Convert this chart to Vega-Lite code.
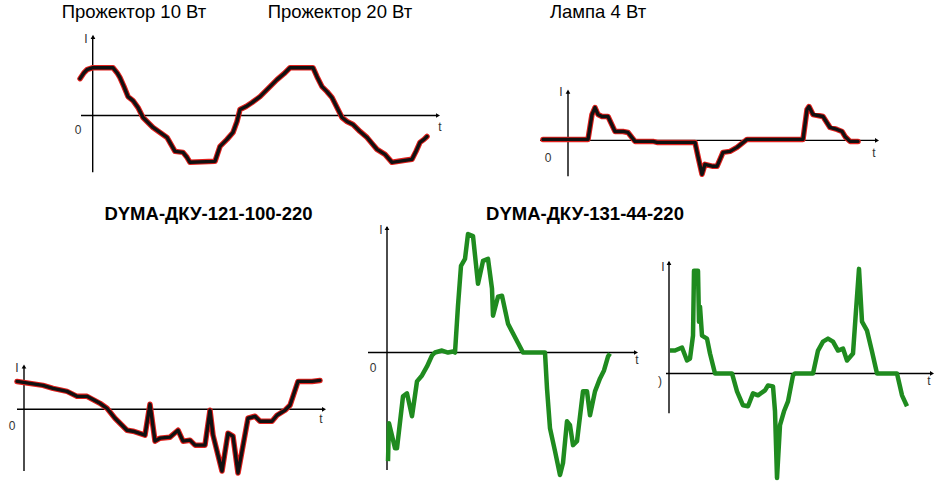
{
  "$schema": "https://vega.github.io/schema/vega-lite/v6.json",
  "width": 937,
  "height": 481,
  "autosize": {"type": "fit", "contains": "padding"},
  "padding": 0,
  "background": "white",
  "config": {"view": {"stroke": null}},
  "datasets": {
    "curves": [
      {"p":1,"o":1,"x":80,"y":79},{"p":1,"o":2,"x":84,"y":73},{"p":1,"o":3,"x":87,"y":70},{"p":1,"o":4,"x":93,"y":68},{"p":1,"o":5,"x":113,"y":68},{"p":1,"o":6,"x":117,"y":73},{"p":1,"o":7,"x":120,"y":78},{"p":1,"o":8,"x":124,"y":87},{"p":1,"o":9,"x":128,"y":97},{"p":1,"o":10,"x":133,"y":101},{"p":1,"o":11,"x":138,"y":108},{"p":1,"o":12,"x":143,"y":118},{"p":1,"o":13,"x":147,"y":122},{"p":1,"o":14,"x":153,"y":128},{"p":1,"o":15,"x":160,"y":133},{"p":1,"o":16,"x":167,"y":138},{"p":1,"o":17,"x":171,"y":145},{"p":1,"o":18,"x":175,"y":152},{"p":1,"o":19,"x":183,"y":153},{"p":1,"o":20,"x":187,"y":158},{"p":1,"o":21,"x":190,"y":163},{"p":1,"o":22,"x":215,"y":162},{"p":1,"o":23,"x":218,"y":153},{"p":1,"o":24,"x":220,"y":147},{"p":1,"o":25,"x":227,"y":140},{"p":1,"o":26,"x":233,"y":133},{"p":1,"o":27,"x":237,"y":122},{"p":1,"o":28,"x":240,"y":110},{"p":1,"o":29,"x":246,"y":107},{"p":1,"o":30,"x":252,"y":103},{"p":1,"o":31,"x":260,"y":97},{"p":1,"o":32,"x":267,"y":90},{"p":1,"o":33,"x":272,"y":85},{"p":1,"o":34,"x":277,"y":80},{"p":1,"o":35,"x":284,"y":74},{"p":1,"o":36,"x":290,"y":68},{"p":1,"o":37,"x":313,"y":68},{"p":1,"o":38,"x":317,"y":77},{"p":1,"o":39,"x":322,"y":87},{"p":1,"o":40,"x":327,"y":92},{"p":1,"o":41,"x":332,"y":98},{"p":1,"o":42,"x":337,"y":108},{"p":1,"o":43,"x":342,"y":118},{"p":1,"o":44,"x":347,"y":122},{"p":1,"o":45,"x":353,"y":125},{"p":1,"o":46,"x":360,"y":132},{"p":1,"o":47,"x":367,"y":138},{"p":1,"o":48,"x":372,"y":144},{"p":1,"o":49,"x":377,"y":150},{"p":1,"o":50,"x":385,"y":155},{"p":1,"o":51,"x":392,"y":163},{"p":1,"o":52,"x":405,"y":161},{"p":1,"o":53,"x":412,"y":160},{"p":1,"o":54,"x":416,"y":152},{"p":1,"o":55,"x":420,"y":143},{"p":1,"o":56,"x":424,"y":140},{"p":1,"o":57,"x":427,"y":137},

      {"p":2,"o":1,"x":543,"y":140},{"p":2,"o":2,"x":588,"y":140},{"p":2,"o":3,"x":592,"y":115},{"p":2,"o":4,"x":595,"y":108},{"p":2,"o":5,"x":598,"y":115},{"p":2,"o":6,"x":602,"y":117},{"p":2,"o":7,"x":608,"y":117},{"p":2,"o":8,"x":615,"y":132},{"p":2,"o":9,"x":623,"y":132},{"p":2,"o":10,"x":628,"y":133},{"p":2,"o":11,"x":635,"y":142},{"p":2,"o":12,"x":653,"y":142},{"p":2,"o":13,"x":657,"y":143},{"p":2,"o":14,"x":695,"y":143},{"p":2,"o":15,"x":698,"y":157},{"p":2,"o":16,"x":702,"y":175},{"p":2,"o":17,"x":705,"y":165},{"p":2,"o":18,"x":713,"y":167},{"p":2,"o":19,"x":717,"y":167},{"p":2,"o":20,"x":723,"y":153},{"p":2,"o":21,"x":730,"y":152},{"p":2,"o":22,"x":737,"y":148},{"p":2,"o":23,"x":747,"y":140},{"p":2,"o":24,"x":803,"y":140},{"p":2,"o":25,"x":807,"y":110},{"p":2,"o":26,"x":809,"y":107},{"p":2,"o":27,"x":813,"y":115},{"p":2,"o":28,"x":823,"y":117},{"p":2,"o":29,"x":830,"y":128},{"p":2,"o":30,"x":837,"y":130},{"p":2,"o":31,"x":842,"y":132},{"p":2,"o":32,"x":845,"y":137},{"p":2,"o":33,"x":850,"y":142},{"p":2,"o":34,"x":858,"y":142},

      {"p":3,"o":1,"x":17,"y":383},{"p":3,"o":2,"x":43,"y":387},{"p":3,"o":3,"x":53,"y":390},{"p":3,"o":4,"x":67,"y":393},{"p":3,"o":5,"x":77,"y":398},{"p":3,"o":6,"x":87,"y":398},{"p":3,"o":7,"x":100,"y":405},{"p":3,"o":8,"x":107,"y":410},{"p":3,"o":9,"x":115,"y":420},{"p":3,"o":10,"x":127,"y":432},{"p":3,"o":11,"x":133,"y":433},{"p":3,"o":12,"x":145,"y":437},{"p":3,"o":13,"x":150,"y":406},{"p":3,"o":14,"x":155,"y":443},{"p":3,"o":15,"x":160,"y":440},{"p":3,"o":16,"x":170,"y":439},{"p":3,"o":17,"x":178,"y":432},{"p":3,"o":18,"x":183,"y":443},{"p":3,"o":19,"x":190,"y":442},{"p":3,"o":20,"x":195,"y":447},{"p":3,"o":21,"x":205,"y":447},{"p":3,"o":22,"x":210,"y":412},{"p":3,"o":23,"x":213,"y":437},{"p":3,"o":24,"x":222,"y":473},{"p":3,"o":25,"x":228,"y":435},{"p":3,"o":26,"x":233,"y":438},{"p":3,"o":27,"x":238,"y":475},{"p":3,"o":28,"x":248,"y":420},{"p":3,"o":29,"x":255,"y":418},{"p":3,"o":30,"x":260,"y":423},{"p":3,"o":31,"x":272,"y":423},{"p":3,"o":32,"x":277,"y":417},{"p":3,"o":33,"x":285,"y":412},{"p":3,"o":34,"x":290,"y":407},{"p":3,"o":35,"x":298,"y":383},{"p":3,"o":36,"x":312,"y":383},{"p":3,"o":37,"x":320,"y":382},

      {"p":4,"o":1,"x":388,"y":463},{"p":4,"o":2,"x":389,"y":425},{"p":4,"o":3,"x":395,"y":450},{"p":4,"o":4,"x":397,"y":450},{"p":4,"o":5,"x":403,"y":398},{"p":4,"o":6,"x":407,"y":395},{"p":4,"o":7,"x":412,"y":418},{"p":4,"o":8,"x":415,"y":397},{"p":4,"o":9,"x":417,"y":383},{"p":4,"o":10,"x":422,"y":377},{"p":4,"o":11,"x":427,"y":368},{"p":4,"o":12,"x":432,"y":357},{"p":4,"o":13,"x":435,"y":354},{"p":4,"o":14,"x":442,"y":352},{"p":4,"o":15,"x":448,"y":354},{"p":4,"o":16,"x":453,"y":353},{"p":4,"o":17,"x":455,"y":354},{"p":4,"o":18,"x":458,"y":307},{"p":4,"o":19,"x":461,"y":267},{"p":4,"o":20,"x":465,"y":260},{"p":4,"o":21,"x":468,"y":235},{"p":4,"o":22,"x":473,"y":237},{"p":4,"o":23,"x":478,"y":285},{"p":4,"o":24,"x":483,"y":262},{"p":4,"o":25,"x":488,"y":260},{"p":4,"o":26,"x":492,"y":290},{"p":4,"o":27,"x":493,"y":317},{"p":4,"o":28,"x":498,"y":298},{"p":4,"o":29,"x":502,"y":297},{"p":4,"o":30,"x":508,"y":325},{"p":4,"o":31,"x":512,"y":333},{"p":4,"o":32,"x":523,"y":354},{"p":4,"o":33,"x":545,"y":354},{"p":4,"o":34,"x":547,"y":390},{"p":4,"o":35,"x":550,"y":430},{"p":4,"o":36,"x":555,"y":453},{"p":4,"o":37,"x":560,"y":477},{"p":4,"o":38,"x":563,"y":465},{"p":4,"o":39,"x":567,"y":423},{"p":4,"o":40,"x":570,"y":427},{"p":4,"o":41,"x":573,"y":447},{"p":4,"o":42,"x":577,"y":443},{"p":4,"o":43,"x":583,"y":393},{"p":4,"o":44,"x":587,"y":393},{"p":4,"o":45,"x":590,"y":417},{"p":4,"o":46,"x":595,"y":393},{"p":4,"o":47,"x":600,"y":380},{"p":4,"o":48,"x":604,"y":372},{"p":4,"o":49,"x":608,"y":358},{"p":4,"o":50,"x":610,"y":355},

      {"p":5,"o":1,"x":670,"y":352},{"p":5,"o":2,"x":675,"y":352},{"p":5,"o":3,"x":682,"y":349},{"p":5,"o":4,"x":687,"y":362},{"p":5,"o":5,"x":690,"y":360},{"p":5,"o":6,"x":693,"y":337},{"p":5,"o":7,"x":694,"y":272},{"p":5,"o":8,"x":698,"y":272},{"p":5,"o":9,"x":699,"y":323},{"p":5,"o":10,"x":700,"y":308},{"p":5,"o":11,"x":702,"y":337},{"p":5,"o":12,"x":707,"y":340},{"p":5,"o":13,"x":710,"y":355},{"p":5,"o":14,"x":715,"y":375},{"p":5,"o":15,"x":732,"y":375},{"p":5,"o":16,"x":737,"y":393},{"p":5,"o":17,"x":743,"y":407},{"p":5,"o":18,"x":748,"y":408},{"p":5,"o":19,"x":753,"y":395},{"p":5,"o":20,"x":758,"y":397},{"p":5,"o":21,"x":765,"y":392},{"p":5,"o":22,"x":768,"y":387},{"p":5,"o":23,"x":773,"y":388},{"p":5,"o":24,"x":775,"y":413},{"p":5,"o":25,"x":777,"y":480},{"p":5,"o":26,"x":780,"y":427},{"p":5,"o":27,"x":784,"y":413},{"p":5,"o":28,"x":788,"y":403},{"p":5,"o":29,"x":793,"y":377},{"p":5,"o":30,"x":795,"y":375},{"p":5,"o":31,"x":813,"y":375},{"p":5,"o":32,"x":818,"y":352},{"p":5,"o":33,"x":823,"y":343},{"p":5,"o":34,"x":828,"y":340},{"p":5,"o":35,"x":833,"y":343},{"p":5,"o":36,"x":838,"y":352},{"p":5,"o":37,"x":843,"y":350},{"p":5,"o":38,"x":847,"y":362},{"p":5,"o":39,"x":853,"y":355},{"p":5,"o":40,"x":856,"y":312},{"p":5,"o":41,"x":859,"y":270},{"p":5,"o":42,"x":862,"y":323},{"p":5,"o":43,"x":867,"y":332},{"p":5,"o":44,"x":872,"y":353},{"p":5,"o":45,"x":877,"y":375},{"p":5,"o":46,"x":897,"y":375},{"p":5,"o":47,"x":902,"y":397},{"p":5,"o":48,"x":907,"y":408}
    ],
    "axes": [
      {"x":92.7,"y":37,"x2":92.7,"y2":173},{"x":81,"y":116,"x2":437,"y2":116},
      {"x":568,"y":92,"x2":568,"y2":177},{"x":540,"y":141,"x2":876,"y2":141},
      {"x":24,"y":368,"x2":24,"y2":473},{"x":17,"y":411,"x2":323,"y2":411},
      {"x":387,"y":228,"x2":387,"y2":472},{"x":368,"y":354,"x2":635,"y2":354},
      {"x":669,"y":263,"x2":669,"y2":415},{"x":666,"y":375,"x2":931,"y2":375}
    ],
    "arrows": [
      {"x":93,"y":37,"s":"triangle-up"},{"x":438,"y":116,"s":"triangle-right"},
      {"x":568,"y":92,"s":"triangle-up"},{"x":877,"y":141,"s":"triangle-right"},
      {"x":24,"y":368,"s":"triangle-up"},{"x":324,"y":411,"s":"triangle-right"},
      {"x":387,"y":229,"s":"triangle-up"},{"x":636,"y":354,"s":"triangle-right"},
      {"x":669,"y":264,"s":"triangle-up"},{"x":932,"y":375,"s":"triangle-right"}
    ],
    "labels": [
      {"x":86,"y":39,"t":"I"},{"x":78,"y":131,"t":"0"},{"x":440,"y":128,"t":"t"},
      {"x":561,"y":92,"t":"I"},{"x":548,"y":159,"t":"0"},{"x":874,"y":154,"t":"t"},
      {"x":17,"y":370,"t":"I"},{"x":12,"y":428,"t":"0"},{"x":321,"y":421,"t":"t"},
      {"x":381,"y":231,"t":"I"},{"x":373,"y":370,"t":"0"},{"x":637,"y":362,"t":"t"},
      {"x":663,"y":268,"t":"I"},{"x":660,"y":383,"t":")"},{"x":929,"y":383,"t":"t"}
    ],
    "titles": [
      {"x":134,"y":18,"t":"Прожектор 10 Вт"},
      {"x":340,"y":18,"t":"Прожектор 20 Вт"},
      {"x":598,"y":18,"t":"Лампа 4 Вт"}
    ],
    "boldtitles": [
      {"x":208.5,"y":221,"t":"DYMA-ДКУ-121-100-220"},
      {"x":585,"y":221,"t":"DYMA-ДКУ-131-44-220"}
    ]
  },
  "layer": [
    {
      "data": {"name": "axes"},
      "mark": {"type": "rule", "color": "black", "strokeWidth": 1.4},
      "encoding": {
        "x": {"field": "x", "type": "quantitative", "scale": {"domain": [0, 937], "nice": false, "zero": false}, "axis": null},
        "y": {"field": "y", "type": "quantitative", "scale": {"domain": [0, 481], "nice": false, "zero": false, "reverse": true}, "axis": null},
        "x2": {"field": "x2"},
        "y2": {"field": "y2"}
      }
    },
    {
      "data": {"name": "arrows"},
      "mark": {"type": "point", "filled": true, "color": "black", "size": 22, "opacity": 1},
      "encoding": {
        "x": {"field": "x", "type": "quantitative", "axis": null},
        "y": {"field": "y", "type": "quantitative", "axis": null},
        "shape": {"field": "s", "type": "nominal", "scale": null, "legend": null}
      }
    },
    {
      "data": {"name": "curves"},
      "transform": [{"filter": "datum.p <= 3"}],
      "mark": {"type": "line", "color": "#e0201c", "strokeWidth": 5.5, "strokeJoin": "round", "strokeCap": "round"},
      "encoding": {
        "x": {"field": "x", "type": "quantitative", "axis": null},
        "y": {"field": "y", "type": "quantitative", "axis": null},
        "detail": {"field": "p", "type": "nominal"},
        "order": {"field": "o", "type": "quantitative"}
      }
    },
    {
      "data": {"name": "curves"},
      "transform": [{"filter": "datum.p <= 3"}],
      "mark": {"type": "line", "color": "#111111", "strokeWidth": 3.4, "strokeJoin": "round", "strokeCap": "round"},
      "encoding": {
        "x": {"field": "x", "type": "quantitative", "axis": null},
        "y": {"field": "y", "type": "quantitative", "axis": null},
        "detail": {"field": "p", "type": "nominal"},
        "order": {"field": "o", "type": "quantitative"}
      }
    },
    {
      "data": {"name": "curves"},
      "transform": [{"filter": "datum.p >= 4"}],
      "mark": {"type": "line", "color": "#1f8b1f", "strokeWidth": 4.5, "strokeJoin": "round", "strokeCap": "butt"},
      "encoding": {
        "x": {"field": "x", "type": "quantitative", "axis": null},
        "y": {"field": "y", "type": "quantitative", "axis": null},
        "detail": {"field": "p", "type": "nominal"},
        "order": {"field": "o", "type": "quantitative"}
      }
    },
    {
      "data": {"name": "labels"},
      "mark": {"type": "text", "font": "Liberation Sans", "fontSize": 12, "color": "#333333", "align": "center", "baseline": "middle"},
      "encoding": {
        "x": {"field": "x", "type": "quantitative", "axis": null},
        "y": {"field": "y", "type": "quantitative", "axis": null},
        "text": {"field": "t"}
      }
    },
    {
      "data": {"name": "titles"},
      "mark": {"type": "text", "font": "Liberation Sans", "fontSize": 18.5, "color": "black", "align": "center", "baseline": "alphabetic"},
      "encoding": {
        "x": {"field": "x", "type": "quantitative", "axis": null},
        "y": {"field": "y", "type": "quantitative", "axis": null},
        "text": {"field": "t"}
      }
    },
    {
      "data": {"name": "boldtitles"},
      "mark": {"type": "text", "font": "Liberation Sans", "fontSize": 18.5, "fontWeight": "bold", "color": "black", "align": "center", "baseline": "alphabetic"},
      "encoding": {
        "x": {"field": "x", "type": "quantitative", "axis": null},
        "y": {"field": "y", "type": "quantitative", "axis": null},
        "text": {"field": "t"}
      }
    }
  ]
}
